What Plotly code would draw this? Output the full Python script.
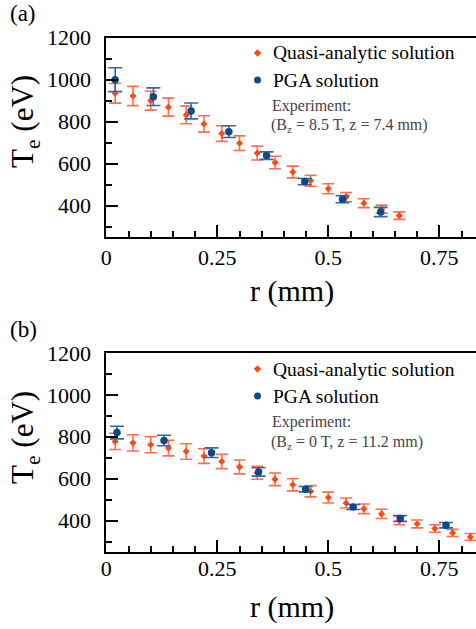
import plotly.graph_objects as go

W, H = 476, 629

# Panel (a): B_z = 8.5 T, z = 7.4 mm
a_quasi_r = [0.02, 0.06, 0.10, 0.14, 0.18, 0.22, 0.26, 0.30, 0.34, 0.38, 0.42,
             0.46, 0.50, 0.54, 0.58, 0.62, 0.66]
a_quasi_te = [935, 922, 900, 869, 832, 789, 743, 697, 650, 605, 560,
              518, 480, 440, 411, 383, 352]
a_quasi_err = [47, 46, 45, 43, 42, 39, 37, 35, 33, 30, 28,
               26, 24, 22, 21, 19, 18]
a_pga_r = [0.020, 0.106, 0.191, 0.276, 0.361, 0.447, 0.532, 0.618]
a_pga_te = [1000, 919, 851, 752, 638, 514, 430, 369]
a_pga_err = [57, 42, 38, 28, 18, 15, 17, 22]

# Panel (b): B_z = 0 T, z = 11.2 mm
b_quasi_r = [0.02, 0.06, 0.10, 0.14, 0.18, 0.22, 0.26, 0.30, 0.34, 0.38, 0.42,
             0.46, 0.50, 0.54, 0.58, 0.62, 0.66, 0.70, 0.74, 0.78, 0.82]
b_quasi_te = [778, 771, 762, 746, 730, 708, 682, 656, 628, 597, 571,
              540, 510, 484, 456, 432, 400, 384, 362, 341, 322]
b_quasi_err = [39, 39, 38, 37, 37, 35, 34, 33, 31, 30, 29,
               27, 26, 24, 23, 22, 20, 19, 18, 17, 16]
b_pga_r = [0.024, 0.130, 0.237, 0.343, 0.449, 0.556, 0.662, 0.765]
b_pga_te = [820, 782, 724, 632, 550, 465, 410, 378]
b_pga_err = [30, 25, 23, 20, 13, 12, 14, 13]

x_ticks = [0, 0.25, 0.5, 0.75]
x_tick_text = ["0", "0.25", "0.5", "0.75"]
y_ticks = [400, 600, 800, 1000, 1200]

ORANGE = "#FF4A14"
ORANGE_BAR = "#FF6E4C"
BLUE = "#0B4A8A"
BLUE_BAR = "#3467A8"
FONT = "Liberation Serif"


def px_x(p):
    return p / W


def px_y(p):
    return 1 - p / H


fig = go.Figure()

panels = [
    ("x", "y", a_quasi_r, a_quasi_te, a_quasi_err, a_pga_r, a_pga_te, a_pga_err),
    ("x2", "y2", b_quasi_r, b_quasi_te, b_quasi_err, b_pga_r, b_pga_te, b_pga_err),
]
for xa, ya, qr, qt, qe, pr, pt, pe in panels:
    fig.add_trace(go.Scatter(
        x=qr, y=qt, mode="markers", xaxis=xa, yaxis=ya, showlegend=False,
        name="Quasi-analytic solution",
        marker=dict(symbol="diamond", size=5.5, color=ORANGE),
        error_y=dict(type="data", array=qe, color=ORANGE_BAR,
                     thickness=1.6, width=6),
        cliponaxis=False,
    ))
    fig.add_trace(go.Scatter(
        x=pr, y=pt, mode="markers", xaxis=xa, yaxis=ya, showlegend=False,
        name="PGA solution",
        marker=dict(symbol="circle", size=7.5, color=BLUE),
        error_y=dict(type="data", array=pe, color=BLUE_BAR,
                     thickness=1.6, width=7),
        cliponaxis=False,
    ))

x_left = 106.3
x_range = [0, (W - x_left) / 444.0]

xaxis_common = dict(
    range=x_range, tickmode="array", tickvals=x_ticks, ticktext=x_tick_text,
    ticks="inside", ticklen=12, tickwidth=2, tickcolor="black",
    showline=True, linewidth=2, linecolor="black", mirror=True,
    showgrid=False, zeroline=False, automargin=False,
    tickfont=dict(family=FONT, size=22, color="black"),
    minor=dict(ticks="inside", ticklen=6, tickwidth=2, tickcolor="black",
               dtick=0.05, tick0=0, showgrid=False),
)
yaxis_common = dict(
    range=[250, 1200], tickmode="array", tickvals=y_ticks,
    ticks="inside", ticklen=12, tickwidth=2, tickcolor="black",
    showline=True, linewidth=2, linecolor="black", mirror=False,
    showgrid=False, zeroline=False, automargin=False,
    tickfont=dict(family=FONT, size=22, color="black"),
    ticklabelstandoff=9,
    minor=dict(ticks="inside", ticklen=6, tickwidth=2, tickcolor="black",
               dtick=100, tick0=0, showgrid=False),
)

fig.update_layout(
    template="none",
    width=W, height=H,
    margin=dict(l=0, r=0, t=0, b=0, pad=0),
    paper_bgcolor="white", plot_bgcolor="white",
    showlegend=False,
    xaxis=dict(domain=[px_x(x_left), 1], anchor="y", ticklabelstandoff=0,
               **xaxis_common),
    yaxis=dict(domain=[px_y(237), px_y(37.7)], anchor="x", **yaxis_common),
    xaxis2=dict(domain=[px_x(x_left), 1], anchor="y2", ticklabelstandoff=-4,
                **xaxis_common),
    yaxis2=dict(domain=[px_y(552), px_y(353)], anchor="x2", **yaxis_common),
)

annotations = []
shapes = []


def text(x, y, s, size, color="black", xanchor="center", angle=0):
    annotations.append(dict(
        xref="paper", yref="paper", x=px_x(x), y=px_y(y), text=s,
        showarrow=False, xanchor=xanchor, yanchor="middle", textangle=angle,
        font=dict(family=FONT, size=size, color=color),
    ))


for top, label, cond in [(0, "(a)", "(B<sub>z</sub> = 8.5 T, z = 7.4 mm)"),
                         (316, "(b)", "(B<sub>z</sub> = 0 T, z = 11.2 mm)")]:
    text(23, top + 13, label, 23)
    text(25, top + 122, "T<sub>e</sub> (eV)", 31, angle=-90)
    text(292, top + 291, "r (mm)", 30)
    text(271, top + 53, "Quasi-analytic solution", 19.5, xanchor="left")
    text(271, top + 80, "PGA solution", 19.5, xanchor="left")
    text(270, top + 106, "Experiment:", 16, color="#444444", xanchor="left")
    text(269, top + 126, cond, 16, color="#444444", xanchor="left")
    # legend symbols
    shapes.append(dict(
        type="path", xref="paper", yref="paper",
        xsizemode="pixel", ysizemode="pixel",
        xanchor=px_x(257.5), yanchor=px_y(top + 53),
        path="M 0,3.8 L 3.8,0 L 0,-3.8 L -3.8,0 Z",
        fillcolor=ORANGE, line=dict(width=0),
    ))
    shapes.append(dict(
        type="circle", xref="paper", yref="paper",
        xsizemode="pixel", ysizemode="pixel",
        xanchor=px_x(257.5), yanchor=px_y(top + 80),
        x0=-3.5, x1=3.5, y0=-3.5, y1=3.5,
        fillcolor=BLUE, line=dict(width=0),
    ))

fig.update_layout(annotations=annotations, shapes=shapes)
fig.write_html("out.html")
